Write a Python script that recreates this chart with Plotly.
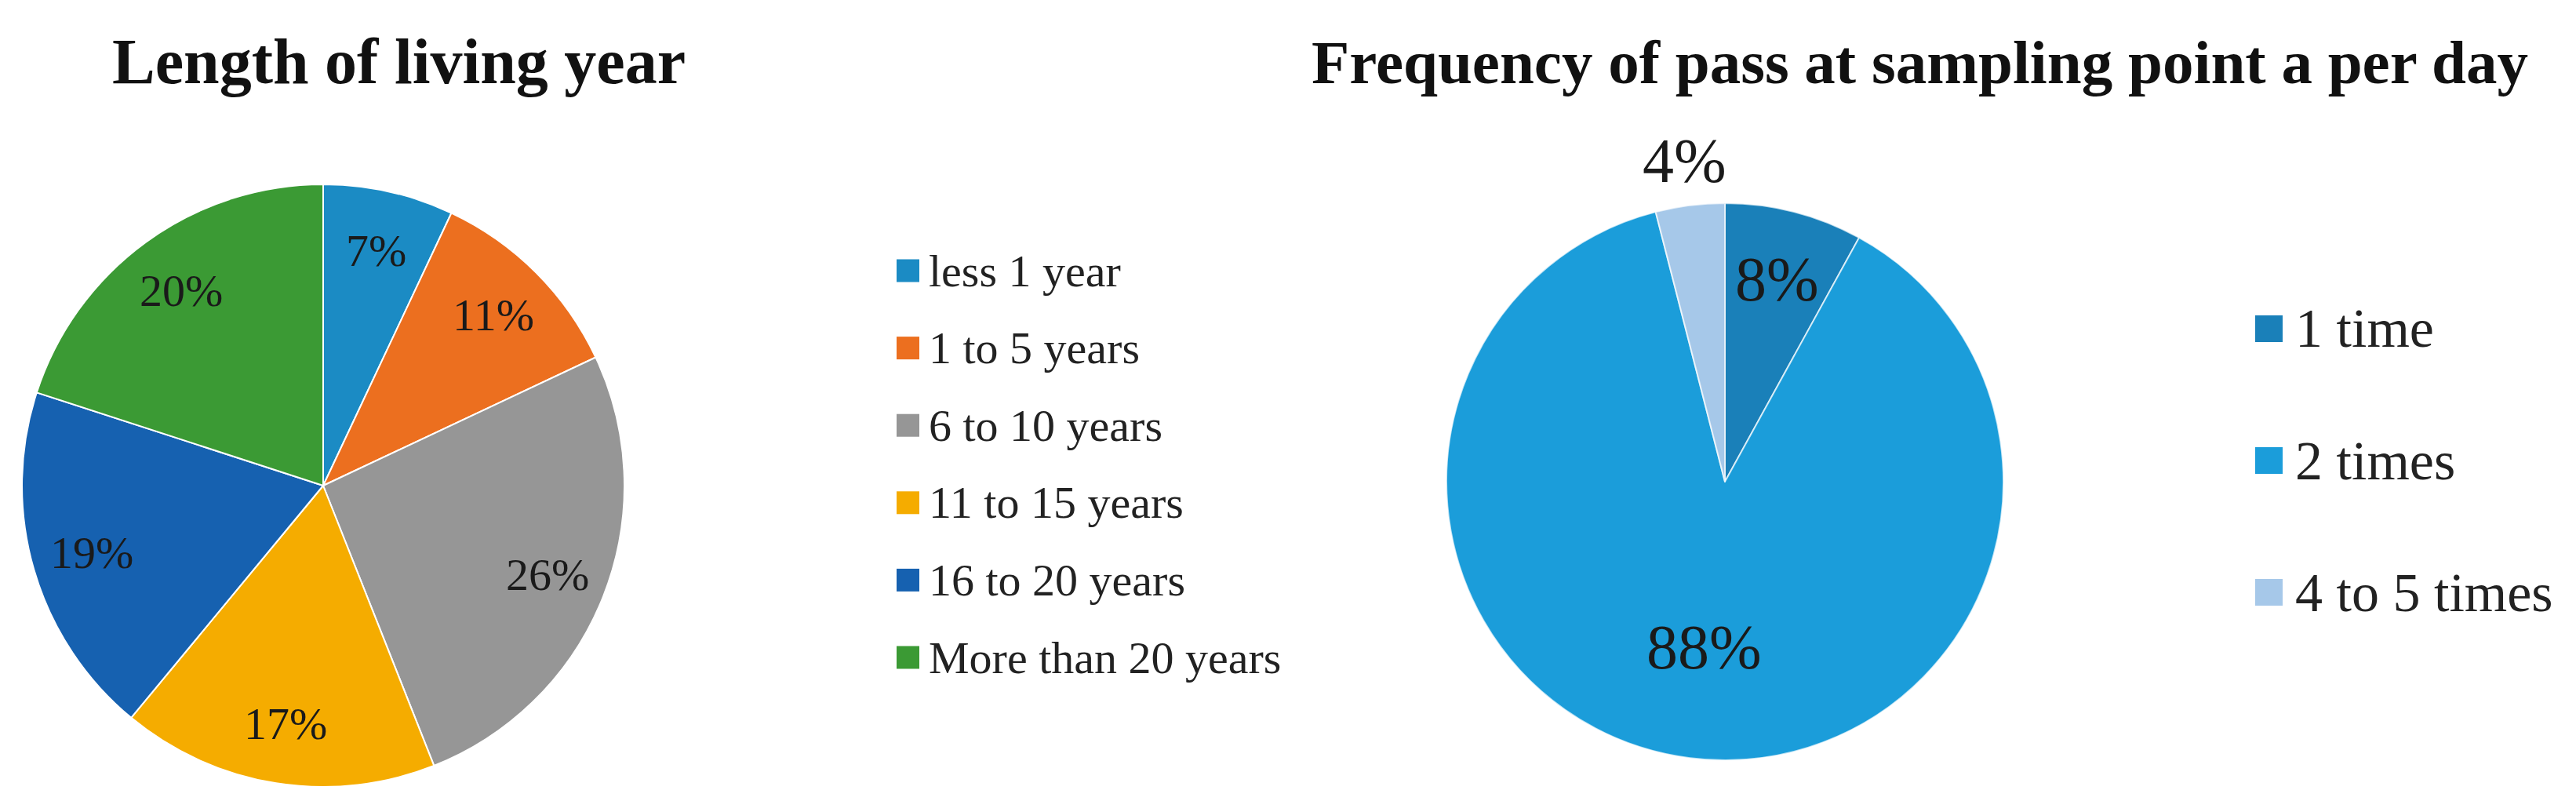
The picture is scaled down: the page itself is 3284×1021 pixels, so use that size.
import math
import plotly.graph_objects as go

# ---------------- data ----------------
living_labels = ["less 1 year", "1 to 5 years", "6 to 10 years",
                 "11 to 15 years", "16 to 20 years", "More than 20 years"]
living_values = [7, 11, 26, 17, 19, 20]
living_colors = ["#1B8BC4", "#EC6F1F", "#969696", "#F5AC00", "#1661B0", "#3B9A34"]

pass_labels = ["1 time", "2 times", "4 to 5 times"]
pass_values = [8, 88, 4]
pass_colors = ["#1A80B9", "#1B9DDA", "#A6C8E9"]

title_left = "Length of living year"
title_right = "Frequency of pass at sampling point a per day"

# ---------------- layout helpers ----------------
W, H = 3284, 1021
SERIF = "Liberation Serif, Times New Roman, serif"

# pie geometry in pixels: centre x, centre y (from top), radius
PIE_L = dict(cx=404, cy=611, r=384)
PIE_R = dict(cx=2191, cy=606, r=355)
# radial position of the percentage labels, as a fraction of the radius
LABEL_FRAC_L = [0.80] * len(living_values)
LABEL_FRAC_R = [0.75, 0.60, 1.16]


def px_x(v):
    return v / W


def px_y(v):
    return 1 - v / H


def domain_of(g):
    return dict(x=[px_x(g["cx"] - g["r"]), px_x(g["cx"] + g["r"])],
                y=[px_y(g["cy"] + g["r"]), px_y(g["cy"] - g["r"])])


def pct_labels(values, geom, fracs, size):
    """Percentage labels placed on each slice's bisector (clockwise from 12 o'clock)."""
    total = float(sum(values))
    out = []
    cum = 0.0
    for v, f in zip(values, fracs):
        theta = 2 * math.pi * (cum + v / 2.0) / total
        cum += v
        x = geom["cx"] + f * geom["r"] * math.sin(theta)
        y = geom["cy"] - f * geom["r"] * math.cos(theta)
        out.append(dict(text=f"{round(100 * v / total)}%", x=px_x(x), y=px_y(y),
                        xref="paper", yref="paper", xanchor="center", yanchor="middle",
                        showarrow=False,
                        font=dict(family=SERIF, size=size, color="#1a1a1a")))
    return out


fig = go.Figure()

fig.add_trace(go.Pie(
    labels=living_labels, values=living_values, sort=False,
    direction="clockwise", rotation=0,
    marker=dict(colors=living_colors, line=dict(color="white", width=2)),
    textinfo="none",
    domain=domain_of(PIE_L),
    showlegend=False, hoverinfo="label+percent",
))

fig.add_trace(go.Pie(
    labels=pass_labels, values=pass_values, sort=False,
    direction="clockwise", rotation=0,
    marker=dict(colors=pass_colors, line=dict(color="rgba(255,255,255,0.7)", width=2)),
    textinfo="none",
    domain=domain_of(PIE_R),
    showlegend=False, hoverinfo="label+percent",
))

annotations = [
    dict(text=f"<b>{title_left}</b>", x=px_x(500), y=px_y(71), xref="paper", yref="paper",
         xanchor="center", yanchor="middle", showarrow=False,
         font=dict(family=SERIF, size=82, color="#111111")),
    dict(text=f"<b>{title_right}</b>", x=px_x(2439), y=px_y(72), xref="paper", yref="paper",
         xanchor="center", yanchor="middle", showarrow=False,
         font=dict(family=SERIF, size=79, color="#111111")),
]
annotations += pct_labels(living_values, PIE_L, LABEL_FRAC_L, 58)
annotations += pct_labels(pass_values, PIE_R, LABEL_FRAC_R, 80)

shapes = []

# legend for left pie (built from the category list)
for i, (lab, col) in enumerate(zip(living_labels, living_colors)):
    cy = 337 + i * 98.6
    shapes.append(dict(type="rect", xref="paper", yref="paper",
                       x0=px_x(1135), x1=px_x(1164), y0=px_y(cy + 14.5), y1=px_y(cy - 14.5),
                       fillcolor=col, line=dict(width=0)))
    annotations.append(dict(text=lab, x=px_x(1174), y=px_y(cy), xref="paper", yref="paper",
                            xanchor="left", yanchor="middle", showarrow=False,
                            font=dict(family=SERIF, size=58, color="#222222")))

# legend for right pie
for i, (lab, col) in enumerate(zip(pass_labels, pass_colors)):
    cy = 411 + i * 168
    shapes.append(dict(type="rect", xref="paper", yref="paper",
                       x0=px_x(2867), x1=px_x(2902), y0=px_y(cy + 17), y1=px_y(cy - 17),
                       fillcolor=col, line=dict(width=0)))
    annotations.append(dict(text=lab, x=px_x(2916), y=px_y(cy), xref="paper", yref="paper",
                            xanchor="left", yanchor="middle", showarrow=False,
                            font=dict(family=SERIF, size=70, color="#222222")))

fig.update_layout(
    width=W, height=H,
    margin=dict(l=0, r=0, t=0, b=0),
    paper_bgcolor="white", plot_bgcolor="white",
    showlegend=False,
    annotations=annotations, shapes=shapes,
)

fig.write_html("out.html")
